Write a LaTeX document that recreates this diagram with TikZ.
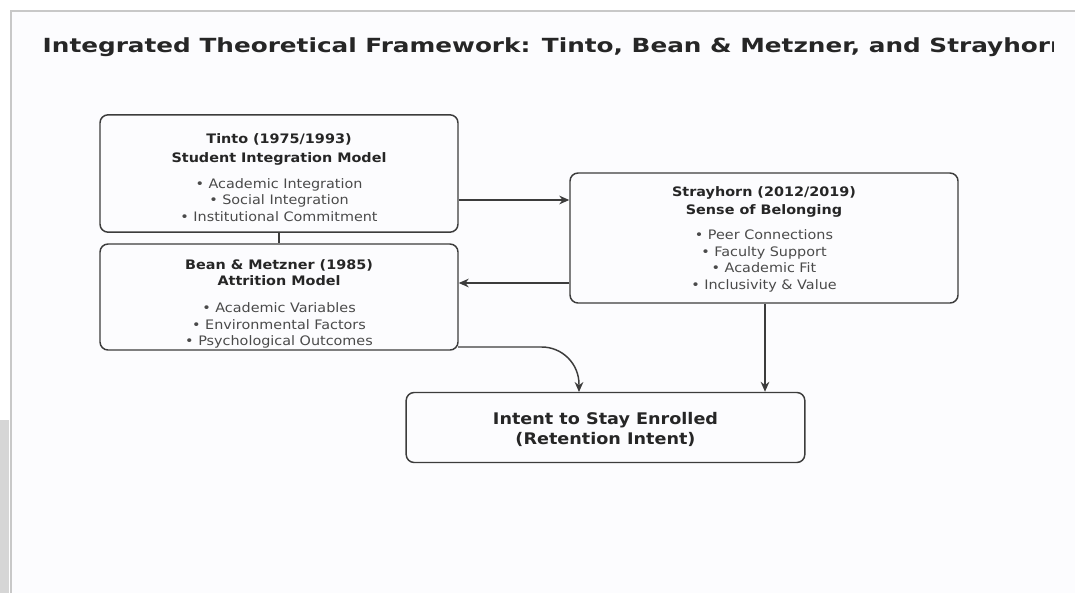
\documentclass[tikz,border=0pt]{standalone}
\usepackage{fontspec}
\setmainfont[FakeStretch=1.1]{DejaVu Sans}
\newfontfamily\headfont[FakeStretch=1.27]{DejaVu Sans}
\usetikzlibrary{arrows.meta}

\definecolor{inkdark}{HTML}{262626}
\definecolor{inkgray}{HTML}{4A4A4A}
\definecolor{linegray}{HTML}{3C3C3C}
\definecolor{framegray}{HTML}{C8C8C8}
\definecolor{paper}{HTML}{FCFCFE}

\begin{document}
\begin{tikzpicture}[x=0.75pt, y=-0.75pt,
          box/.style={draw=linegray, line width=1.1pt, rounded corners=6pt,
            inner sep=0pt},
          boxtext/.style={align=center, text=inkdark, inner sep=0pt,
            font=\fontsize{9.8}{12.3}\selectfont},
          flow/.style={draw=linegray, line width=1.1pt,
            -{Stealth[length=7.5pt, width=6.5pt]}},
          link/.style={draw=linegray, line width=1.1pt},
        ]
          \useasboundingbox (0,0) rectangle (1075,593);
          % page frame
          \fill[white] (0,0) rectangle (1075,593);
          \fill[paper] (11,11) rectangle (1075,593);
          \fill[black!16] (0,420) rectangle (9,593);
          \draw[framegray, line width=1pt] (11,593) -- (11,11) -- (1075,11);
          \begin{scope}
            \clip (11,11) rectangle (1053,593);
            \node[anchor=base west, text=inkdark,
              font=\headfont\bfseries\fontsize{14.6}{18}\selectfont] (title) at (38,52)
              {Integrated Theoretical Framework: Tinto, Bean \& Metzner, and Strayhorn};
          \end{scope}
          % model boxes
          \node[box, minimum width=268.5pt, minimum height=88pt] (tinto) at (279,173.5) {};
          \node[box, minimum width=268.5pt, minimum height=79.5pt] (bean) at (279,297) {};
          \node[box, minimum width=291pt, minimum height=97.5pt] (stray) at (764,238) {};
          \node[box, minimum width=299pt, minimum height=52.5pt] (intent) at (605.5,427.5) {};
          % box contents
          \node[boxtext] (tintotext) at (279,177.5)
            {\textbf{Tinto (1975/1993)}\\[1.8pt]
             \textbf{Student Integration Model}\\[7.5pt]
             {\color{inkgray}• Academic Integration}\\
             {\color{inkgray}• Social Integration}\\
             {\color{inkgray}• Institutional Commitment}};
          \node[boxtext] (beantext) at (279,304)
            {\textbf{Bean \& Metzner (1985)}\\
             \textbf{Attrition Model}\\[8pt]
             {\color{inkgray}• Academic Variables}\\
             {\color{inkgray}• Environmental Factors}\\
             {\color{inkgray}• Psychological Outcomes}};
          \node[boxtext] (straytext) at (764,239)
            {\textbf{Strayhorn (2012/2019)}\\[1.2pt]
             \textbf{Sense of Belonging}\\[7pt]
             {\color{inkgray}• Peer Connections}\\
             {\color{inkgray}• Faculty Support}\\
             {\color{inkgray}• Academic Fit}\\
             {\color{inkgray}• Inclusivity \& Value}};
          \node[boxtext, font=\bfseries\fontsize{12}{15}\selectfont] (intenttext) at (605.5,429)
            {Intent to Stay Enrolled\\(Retention Intent)};
          % connectors
          \coordinate (beanout) at (458,347);
          \coordinate (intentin) at (579,392);
          \draw[link] (tinto) -- (bean);
          \draw[flow] (tinto.east |- 0,200) -- (stray.west |- 0,200);
          \draw[flow] (stray.west |- 0,283) -- (bean.east |- 0,283);
          \draw[flow, rounded corners=28pt] (beanout) -- (intentin |- beanout) -- (intentin);
          \draw[flow] (stray.south -| 765,0) -- (intent.north -| 765,0);
        \end{tikzpicture}
\end{document}
